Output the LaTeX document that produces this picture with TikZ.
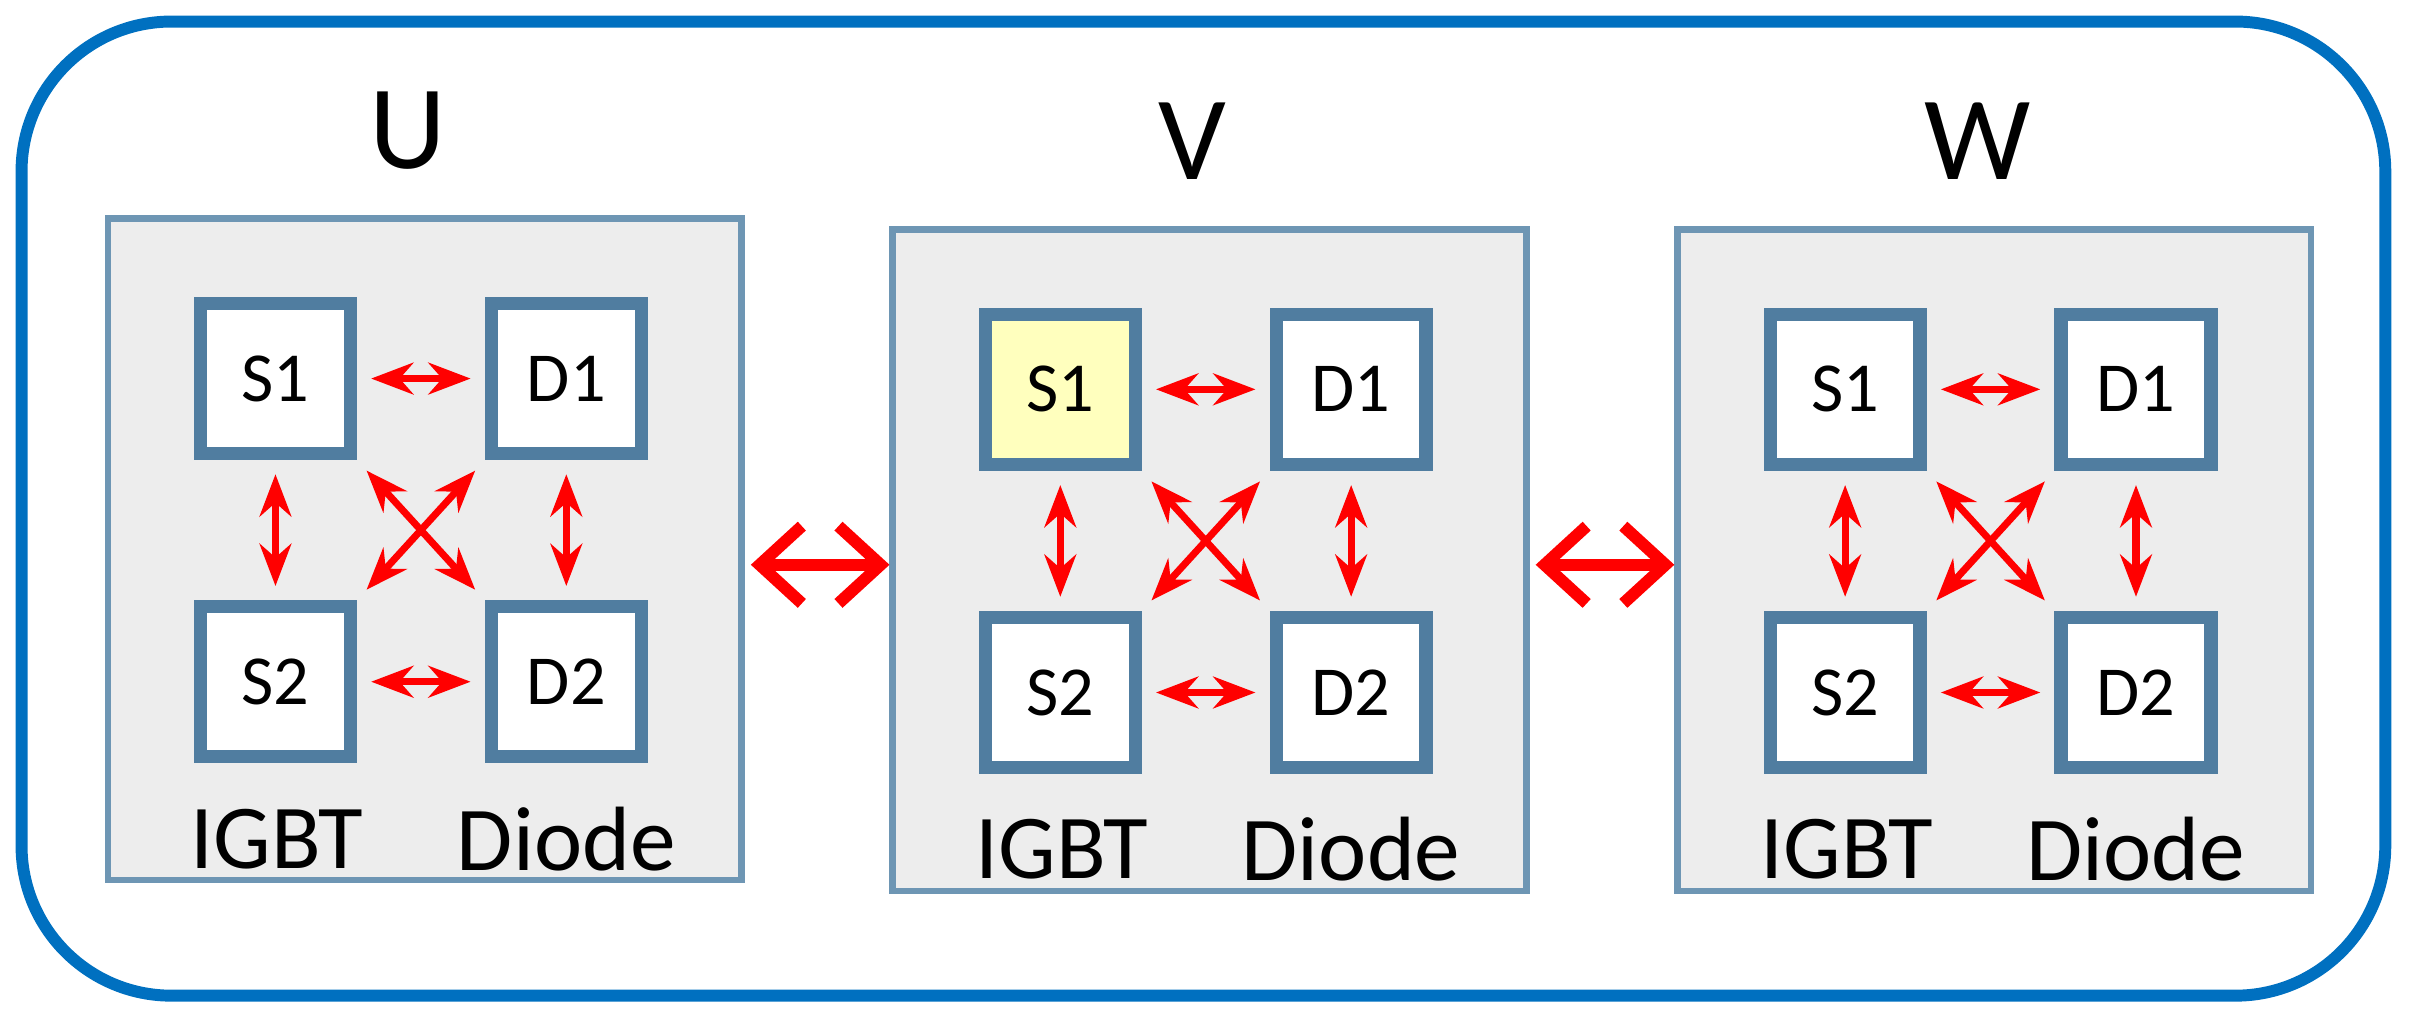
\documentclass[tikz,border=0pt]{standalone}
\usepackage{fontspec}
\setmainfont{Carlito}
\usetikzlibrary{arrows.meta,positioning}
\definecolor{frameblue}{RGB}{0,112,192}
\definecolor{panelgray}{RGB}{237,237,237}
\definecolor{panelline}{RGB}{110,150,180}
\definecolor{boxline}{RGB}{80,125,160}
\definecolor{hilite}{RGB}{255,255,190}
\tikzset{>=Stealth}
\tikzstyle{panel}=[draw=panelline,fill=panelgray,line width=1.8pt,minimum width=6.34cm,minimum height=6.62cm,anchor=north west]
\tikzstyle{chip}=[draw=boxline,fill=white,line width=3.8pt,minimum size=1.5cm,font=\fontsize{20}{24}\selectfont]
\tikzstyle{link}=[<->,red,line width=2pt,shorten >=4pt,shorten <=4pt]
\tikzstyle{phase}=[{Straight Barb[length=12pt,width=22pt]}-{Straight Barb[length=12pt,width=22pt]},red,line width=3.4pt]

\begin{document}
\begin{tikzpicture}[x=0.01539cm,y=-0.01539cm]
    \useasboundingbox (0,0) rectangle (1568,663);
    \draw[frameblue,line width=3.4pt,rounded corners=1.5cm] (14,14) rectangle (1550,647);

    % three phase panels
    \foreach \p/\t/\x/\y in {u/U/68/140,v/V/578/147,w/W/1088/147} {
      \node[panel] (\p) at (\x,\y) {};
      \node[font=\fontsize{34}{40}\selectfont] (\p-title) at (\x+197,\y-55) {\t};
      \node[chip] (\p-s1) at (\x+111,\y+106) {S1};
      \node[chip] (\p-d1) at (\x+300,\y+106) {D1};
      \node[chip] (\p-s2) at (\x+111,\y+303) {S2};
      \node[chip] (\p-d2) at (\x+300,\y+303) {D2};
      \node[font=\fontsize{26}{30}\selectfont] (\p-igbt) at (\x+112,\y+405) {IGBT};
      \node[font=\fontsize{26}{30}\selectfont] (\p-diode) at (\x+300,\y+405) {Diode};
      \draw[link] (\p-s1) -- (\p-d1);
      \draw[link] (\p-s2) -- (\p-d2);
      \draw[link] (\p-s1) -- (\p-s2);
      \draw[link] (\p-d1) -- (\p-d2);
      \draw[link] (\p-s1.south east) -- (\p-d2.north west);
      \draw[link] (\p-d1.south west) -- (\p-s2.north east);
    }
    \node[chip,fill=hilite] at (v-s1) {S1};

    \draw[phase] (u.east |- 0,367) ++(4,0) coordinate (a1) -- (v.west |- 0,367);
    \draw[phase] (v.east |- 0,367) ++(4,0) coordinate (a2) -- (w.west |- 0,367);
\end{tikzpicture}
\end{document}
